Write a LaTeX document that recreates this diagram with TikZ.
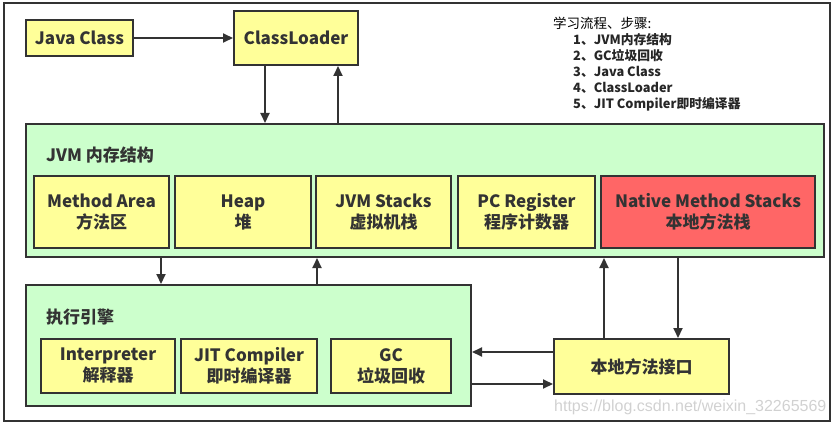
\documentclass[tikz,border=0pt]{standalone}
\usepackage{fontspec}
\setmainfont{Noto Sans CJK SC}
\newfontfamily\wmfont{Liberation Sans}
\usetikzlibrary{arrows.meta}
\definecolor{lineC}{HTML}{333333}
\definecolor{yel}{HTML}{FFFF99}
\definecolor{grn}{HTML}{CCFFCC}
\definecolor{redC}{HTML}{FF6666}
\tikzset{
  box/.style={draw=lineC, line width=2pt, fill=yel, anchor=north west, inner sep=0pt,
    align=center, text=lineC, font=\bfseries\fontsize{17}{21}\selectfont},
  area/.style={draw=lineC, line width=2pt, fill=grn, anchor=north west, inner sep=0pt},
  conn/.style={draw=lineC, line width=2pt, -{Triangle[length=10pt,width=9pt]}},
  lbl/.style={anchor=west, inner sep=0pt, text=lineC, font=\bfseries\fontsize{17}{20}\selectfont},
  leg/.style={anchor=west, inner sep=0pt, text=black, font=\fontsize{13.5}{15}\selectfont},
  legb/.style={anchor=west, inner sep=0pt, text=black!85, font=\bfseries\fontsize{12.8}{15}\selectfont}
}
\begin{document}
\begin{tikzpicture}[x=1pt,y=-1pt]
\useasboundingbox (0,0) rectangle (835,425);
\node[draw=lineC, line width=2pt, anchor=north west, minimum width=826pt, minimum height=418pt, inner sep=0pt] (frame) at (3,2) {};
% top
\node[box, minimum width=107pt, minimum height=36pt] (jc) at (25,19) {Java Class};
\node[box, minimum width=124pt, minimum height=54pt] (cl) at (233,10) {ClassLoader};
% legend
\node[leg] (l0) at (553,23) {学习流程、步骤:};
\node[legb] (l1) at (573,40) {1、JVM内存结构};
\node[legb] (l2) at (573,56) {2、GC垃圾回收};
\node[legb] (l3) at (573,72) {3、Java Class};
\node[legb] (l4) at (573,88) {4、ClassLoader};
\node[legb] (l5) at (573,104) {5、JIT Compiler即时编译器};
% JVM memory
\node[area, minimum width=798pt, minimum height=133pt] (jvm) at (25,123) {};
\node[lbl] (jvml) at (46,155) {JVM 内存结构};
\node[box, minimum width=135pt, minimum height=72pt] (ma) at (33,175) {Method Area\\方法区};
\node[box, minimum width=136pt, minimum height=72pt] (heap) at (174,175) {Heap\\堆};
\node[box, minimum width=135pt, minimum height=72pt] (stk) at (315,175) {JVM Stacks\\虚拟机栈};
\node[box, minimum width=137pt, minimum height=72pt] (pc) at (457,175) {PC Register\\程序计数器};
\node[box, fill=redC, minimum width=214pt, minimum height=72pt] (nat) at (600,175) {Native Method Stacks\\本地方法栈};
% execution engine
\node[area, minimum width=445pt, minimum height=121pt] (ex) at (25,284) {};
\node[lbl] (exl) at (46,317) {执行引擎};
\node[box, minimum width=134pt, minimum height=54pt] (int) at (40,338) {Interpreter\\解释器};
\node[box, minimum width=136pt, minimum height=54pt] (jit) at (180,338) {JIT Compiler\\即时编译器};
\node[box, minimum width=120pt, minimum height=54pt] (gc) at (330,338) {GC\\垃圾回收};
\node[box, minimum width=175pt, minimum height=55pt] (ni) at (553,338) {本地方法接口};
% watermark
\node[anchor=west, inner sep=0pt, text=black!18, font=\wmfont\fontsize{16}{18}\selectfont] (wm) at (554,407) {https://blog.csdn.net/weixin\_32265569};
% connectors
\draw[conn] (jc.east) -- (cl.west);
\draw[conn] (cl.south -| 265,0) -- (jvm.north -| 265,0);
\draw[conn] (jvm.north -| 338,0) -- (cl.south -| 338,0);
\draw[conn] (jvm.south -| 161,0) -- (ex.north -| 161,0);
\draw[conn] (ex.north -| 317,0) -- (jvm.south -| 317,0);
\draw[conn] (ni.north -| 604,0) -- (jvm.south -| 604,0);
\draw[conn] (jvm.south -| 678,0) -- (ni.north -| 678,0);
\draw[conn] (ni.west |- 0,352) -- (ex.east |- 0,352);
\draw[conn] (ex.east |- 0,384) -- (ni.west |- 0,384);
\end{tikzpicture}
\end{document}
